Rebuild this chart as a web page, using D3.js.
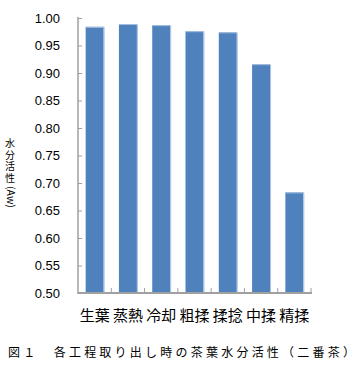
<!DOCTYPE html>
<html>
  <head>
    <meta charset="utf-8"/>
    <style>
      body { margin: 0; background: #fff; }
    </style>
  </head>
  <body>
    <script src="https://d3js.org/d3.v7.min.js"></script>
    <script type="text/javascript">
      var width = 360, height = 390;

      var categories = ["生葉", "蒸熱", "冷却", "粗揉", "揉捻", "中揉", "精揉"];
      var values = [0.984, 0.989, 0.987, 0.976, 0.974, 0.916, 0.683];
      var yTicks = [0.50, 0.55, 0.60, 0.65, 0.70, 0.75, 0.80, 0.85, 0.90, 0.95, 1.00];
      var yTitleChars = ["水", "分", "活", "性"];

      var svg = d3.select("body")
                  .append("svg")
                  .attr("width", width)
                  .attr("height", height);

      var plotLeft = 78, plotRight = 311, plotTop = 18, plotBottom = 293;

      var x = d3.scaleBand()
                .domain(categories)
                .range([plotLeft, plotRight])
                .paddingInner(0.46)
                .paddingOuter(0.23);

      var y = d3.scaleLinear()
                .domain([0.5, 1.0])
                .range([plotBottom, plotTop]);

      // bars
      svg.selectAll("rect.bar")
         .data(values)
         .enter()
         .append("rect")
         .attr("class", "bar")
         .attr("x", function(d, i) { return x(categories[i]); })
         .attr("y", function(d) { return y(d); })
         .attr("width", x.bandwidth())
         .attr("height", function(d) { return y(0.5) - y(d); })
         .attr("fill", "#4f81bd");

      // light edge on top/right of each bar
      svg.selectAll("path.edge")
         .data(values)
         .enter()
         .append("path")
         .attr("d", function(d, i) {
            var x0 = x(categories[i]), x1 = x0 + x.bandwidth();
            return "M" + x0 + "," + (y(d) + 0.5) + "H" + (x1 + 0.5) + "V" + y(0.5);
         })
         .attr("fill", "none")
         .attr("stroke", "#a9c0e0")
         .attr("stroke-width", 1);

      // y axis
      var yAxis = d3.axisRight(y)
                    .tickValues(yTicks)
                    .tickSize(4)
                    .tickFormat("");
      var gy = svg.append("g")
                  .attr("transform", "translate(" + plotLeft + ",0)")
                  .call(yAxis);
      gy.select(".domain").remove();
      gy.selectAll("line").attr("stroke", "#a0a0a0");
      svg.append("line")
         .attr("x1", plotLeft).attr("x2", plotLeft)
         .attr("y1", plotTop - 1).attr("y2", plotBottom + 1)
         .attr("stroke", "#a0a0a0")
         .attr("stroke-width", 1.5);

      svg.selectAll("text.ytick")
         .data(yTicks)
         .enter()
         .append("text")
         .attr("class", "ytick")
         .attr("x", 60)
         .attr("y", function(d) { return y(d) + 4.5; })
         .attr("text-anchor", "end")
         .attr("font-family", "Liberation Sans, Arial, sans-serif")
         .attr("font-size", 13)
         .attr("fill", "#000")
         .text(function(d) { return d.toFixed(2); });

      // x axis
      var step = x.step();
      var bounds = d3.range(categories.length + 1).map(function(i) { return plotLeft + i * step; });
      svg.selectAll("line.xtick")
         .data(bounds.slice(1))
         .enter()
         .append("line")
         .attr("class", "xtick")
         .attr("x1", function(d) { return d; })
         .attr("x2", function(d) { return d; })
         .attr("y1", plotBottom - 5)
         .attr("y2", plotBottom)
         .attr("stroke", "#a0a0a0");
      svg.append("line")
         .attr("x1", plotLeft).attr("x2", plotRight + 1)
         .attr("y1", plotBottom).attr("y2", plotBottom)
         .attr("stroke", "#a0a0a0")
         .attr("stroke-width", 2);

      svg.selectAll("text.xlab")
         .data(categories)
         .enter()
         .append("text")
         .attr("class", "xlab")
         .attr("x", function(d) { return x(d) + x.bandwidth() / 2; })
         .attr("y", 321)
         .attr("text-anchor", "middle")
         .attr("font-family", "Noto Sans CJK JP")
         .attr("font-size", 15)
         .attr("fill", "#000")
         .text(function(d) { return d; });

      // y axis title: upright kanji (one text, stacked tspans), rotated latin part
      var yTitle = svg.append("text")
                      .attr("text-anchor", "middle")
                      .attr("font-family", "Noto Sans CJK JP")
                      .attr("font-size", 10)
                      .attr("fill", "#000");
      yTitle.selectAll("tspan")
            .data(yTitleChars)
            .enter()
            .append("tspan")
            .attr("x", 10)
            .attr("y", function(d, i) { return 147 + i * 11.7; })
            .text(function(d) { return d; });
      svg.append("text")
         .attr("transform", "translate(6.5,186) rotate(90)")
         .attr("font-family", "Noto Sans CJK JP")
         .attr("font-size", 10.5)
         .attr("fill", "#000")
         .text("(Aw)");

      // caption
      svg.append("text")
         .attr("x", 8)
         .attr("y", 357)
         .attr("font-family", "Noto Sans CJK JP")
         .attr("font-size", 12)
         .attr("textLength", 347)
         .attr("lengthAdjust", "spacing")
         .attr("fill", "#000")
         .text("図１　各工程取り出し時の茶葉水分活性（二番茶）");
    </script>
  </body>
</html>
